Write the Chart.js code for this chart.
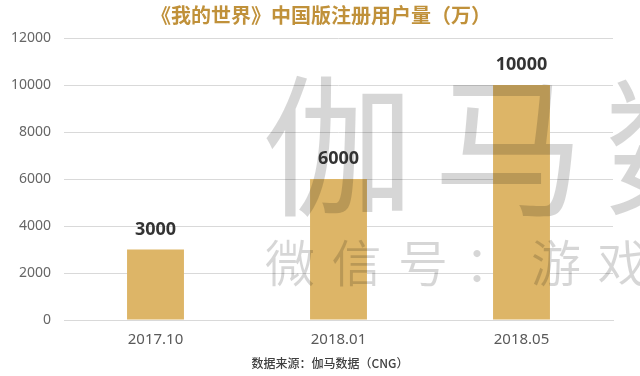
<!DOCTYPE html>
<html>
<head>
<meta charset="utf-8">
<script src="https://cdn.jsdelivr.net/npm/chart.js@4/dist/chart.umd.min.js"></script>
<style>
html,body{margin:0;padding:0;background:#fff;}
#wrap{width:640px;height:376px;position:relative;}
</style>
</head>
<body>
<div id="wrap"><canvas id="c" width="640" height="376"></canvas></div>
<script>
const categories = ["2017.10", "2018.01", "2018.05"];
const users = [3000, 6000, 10000];
const yTicks = [0, 2000, 4000, 6000, 8000, 10000, 12000];
const titleText = "《我的世界》中国版注册用户量（万）";
const sourceText = "数据来源：伽马数据（CNG）";
const watermarkBig = ["伽", "马", "数", "据"];
const watermarkSmall = ["微", "信", "号", "：", "游", "戏", "陀", "螺"];

const CJK = '"Noto Sans CJK SC", "Noto Sans", sans-serif';

const decor = {
  id: 'decor',
  afterDatasetsDraw(chart) {
    const ctx = chart.ctx;
    ctx.save();
    // watermark
    ctx.fillStyle = 'rgba(0,0,0,0.16)';
    ctx.textBaseline = 'middle';
    ctx.textAlign = 'left';
    ctx.font = '400 152px ' + CJK;
    watermarkBig.forEach((ch, i) => ctx.fillText(ch, 262 + i * 171, 146));
    ctx.font = '350 50px ' + CJK;
    watermarkSmall.forEach((ch, i) => ctx.fillText(ch, 265 + i * 66.5, 263));
    // data labels
    const meta = chart.getDatasetMeta(0);
    ctx.fillStyle = '#333333';
    ctx.font = 'bold 18px "Noto Sans", sans-serif';
    ctx.textAlign = 'center';
    ctx.textBaseline = 'alphabetic';
    meta.data.forEach((bar, i) => {
      ctx.fillText(String(users[i]), bar.x, bar.y - 15);
    });
    ctx.restore();
  },
  afterDraw(chart) {
    const ctx = chart.ctx;
    ctx.save();
    ctx.textAlign = 'center';
    ctx.textBaseline = 'middle';
    ctx.fillStyle = '#c0913a';
    ctx.font = 'bold 20px ' + CJK;
    ctx.fillText(titleText, 321, 15);
    ctx.fillStyle = '#404040';
    ctx.font = '500 12px ' + CJK;
    ctx.fillText(sourceText, 330, 363);
    ctx.restore();
  }
};

new Chart(document.getElementById('c'), {
  type: 'bar',
  data: {
    labels: categories,
    datasets: [{
      data: users,
      backgroundColor: '#ddb567',
      borderWidth: 0,
      barPercentage: 0.311,
      categoryPercentage: 1.0
    }]
  },
  options: {
    responsive: false,
    animation: false,
    layout: { padding: { left: 0, right: 27, top: 38, bottom: 0 } },
    plugins: { legend: { display: false }, tooltip: { enabled: false }, title: { display: false } },
    scales: {
      x: {
        grid: { display: false, drawTicks: false },
        border: { display: true, color: '#d9d9d9', width: 1 },
        ticks: { color: '#595959', font: { size: 15, family: '"Noto Sans", sans-serif' }, padding: 11 },
        afterFit(s) { s.height = 56; }
      },
      y: {
        min: 0, max: 12000,
        afterBuildTicks(s) { s.ticks = yTicks.map(v => ({ value: v })); },
        grid: { color: '#d9d9d9', lineWidth: 1, drawTicks: false },
        border: { display: false },
        ticks: {
          color: '#666666',
          font: { size: 14, family: '"Noto Sans", sans-serif' },
          padding: 13,
          callback: (v) => String(v)
        },
        afterFit(s) { s.width = 64; }
      }
    }
  },
  plugins: [decor]
});
</script>
</body>
</html>
